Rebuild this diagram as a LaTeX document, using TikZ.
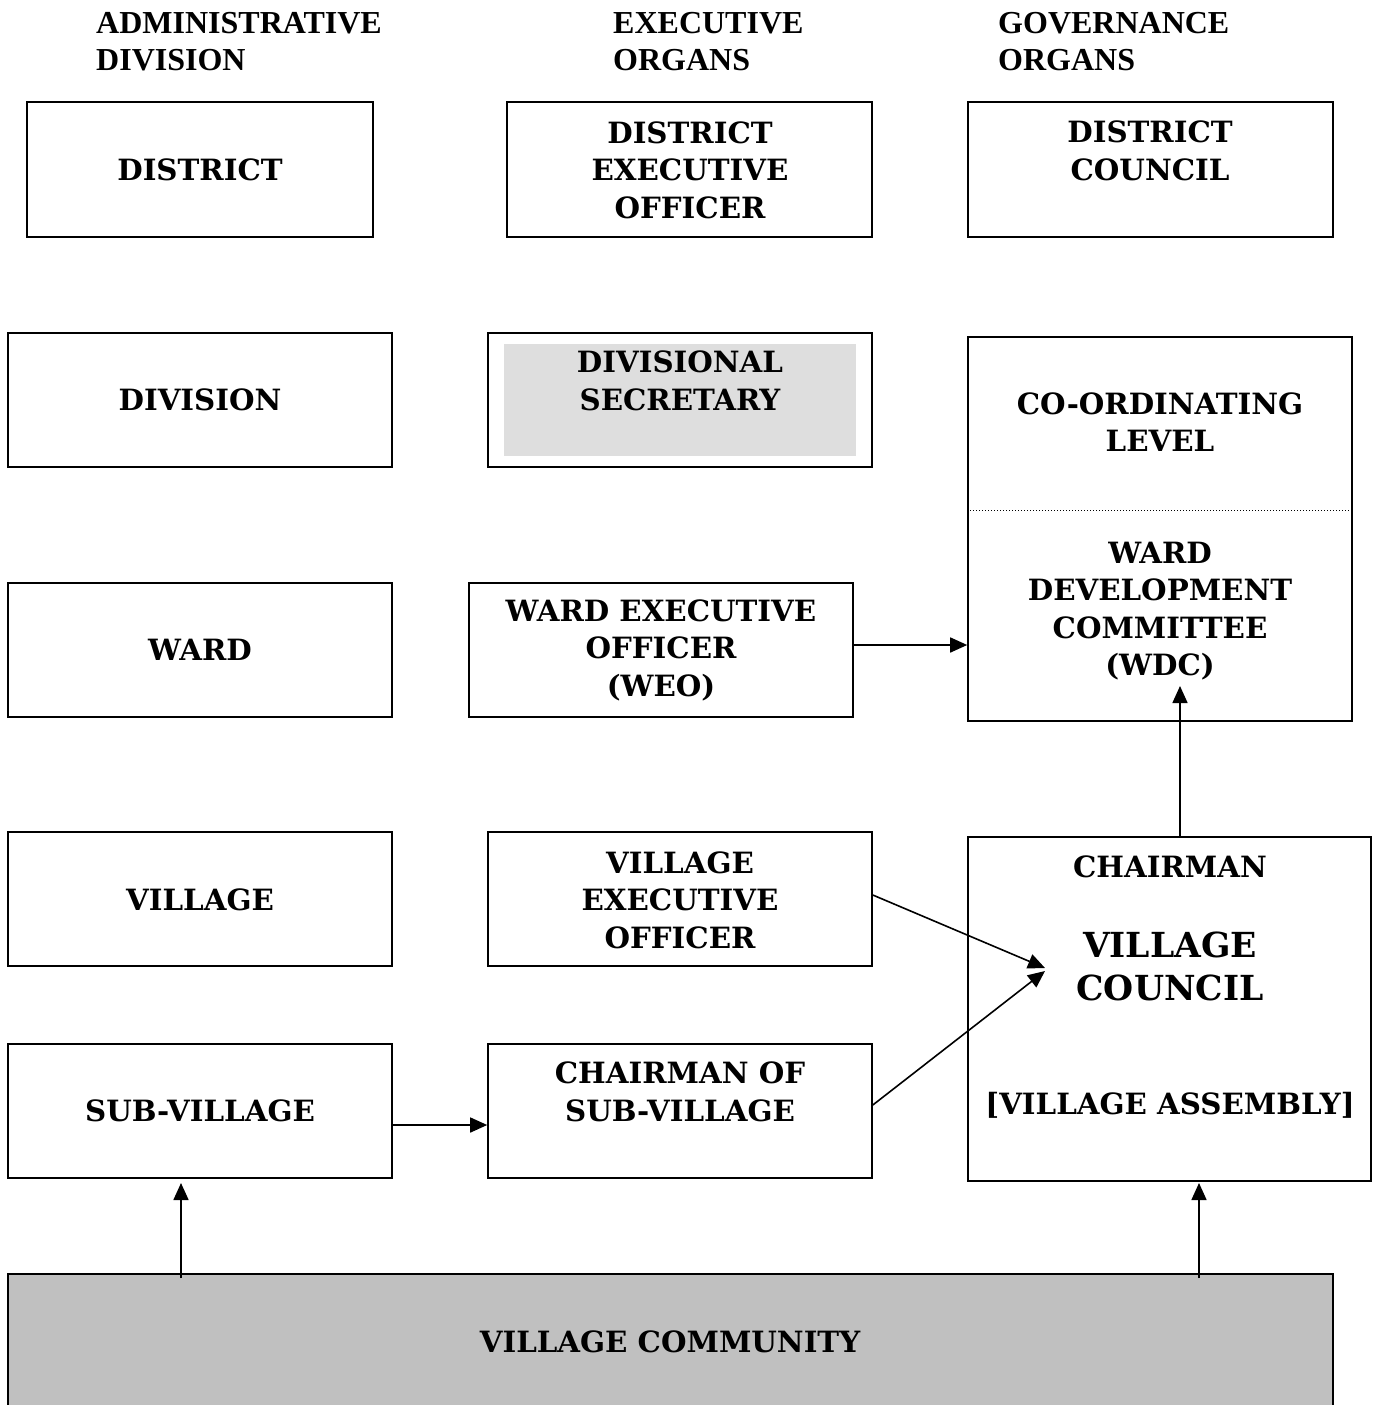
\documentclass[tikz,border=0pt]{standalone}
\usepackage{fontspec}
\setmainfont{Liberation Serif}
\newfontfamily\boxfont{DejaVu Serif}
\usetikzlibrary{arrows.meta,fit}
\definecolor{commgray}{HTML}{C0C0C0}
\definecolor{secgray}{HTML}{DEDEDE}
\begin{document}
\begin{tikzpicture}[x=1pt,y=-1pt,
  box/.style={draw, line width=1.6pt, inner sep=0pt},
  lbl/.style={align=center, inner sep=0pt, font=\boxfont\bfseries\fontsize{29.3}{37.5}\selectfont},
  big/.style={align=center, inner sep=0pt, font=\boxfont\bfseries\fontsize{34.5}{43}\selectfont},
  head/.style={align=left, anchor=north west, inner sep=0pt, font=\bfseries\fontsize{32}{37}\selectfont},
  arr/.style={line width=1.6pt, -{Triangle[length=17pt,width=15pt]}},
]
\useasboundingbox (0,0) rectangle (1380,1405);
\clip (0,0) rectangle (1380,1405);

% column headings
\node[head] (h1) at (96,12) {ADMINISTRATIVE\\DIVISION};
\node[head] (h2) at (613,12) {EXECUTIVE\\ORGANS};
\node[head] (h3) at (998,12) {GOVERNANCE\\ORGANS};

% district level
\node[box, fit={(27,102) (373,237)}] (dist) {};
\node[box, fit={(507,102) (872,237)}] (deo) {};
\node[box, fit={(968,102) (1333,237)}] (dcouncil) {};
\node[lbl] (tdist) at (200,170) {DISTRICT};
\node[lbl] (tdeo) at (690,170) {DISTRICT\\EXECUTIVE\\OFFICER};
\node[lbl] (tdc) at (1150,151) {DISTRICT\\COUNCIL};

% division level
\node[box, fit={(8,333) (392,467)}] (div) {};
\node[box, fit={(488,333) (872,467)}] (dsec) {};
\fill[secgray] (504,344) rectangle (856,456);
\node[lbl] (tdiv) at (200,400) {DIVISION};
\node[lbl] (tdsec) at (680,381) {DIVISIONAL\\SECRETARY};

% co-ordinating level and ward development committee
\node[box, fit={(968,337) (1352,721)}] (wdc) {};
\draw[line width=1pt, dotted] (970,510) -- (1350,510);
\node[lbl] (tcoord) at (1160,422) {CO-ORDINATING\\LEVEL};
\node[lbl] (twdc) at (1160,611) {WARD\\DEVELOPMENT\\COMMITTEE\\(WDC)};

% ward level
\node[box, fit={(8,583) (392,717)}] (ward) {};
\node[box, fit={(469,583) (853,717)}] (weo) {};
\node[lbl] (tward) at (200,650) {WARD};
\node[lbl] (tweo) at (661,650) {WARD EXECUTIVE\\OFFICER\\(WEO)};

% village level
\node[box, fit={(8,832) (392,966)}] (vil) {};
\node[box, fit={(488,832) (872,966)}] (veo) {};
\node[box, fit={(968,837) (1371,1181)}] (vc) {};
\node[lbl] (tvil) at (200,900) {VILLAGE};
\node[lbl] (tveo) at (680,900) {VILLAGE\\EXECUTIVE\\OFFICER};
\node[lbl] (tchair) at (1170,867) {CHAIRMAN};
\node[big] (tvc) at (1170,966) {VILLAGE\\COUNCIL};
\node[lbl] (tva) at (1170,1105) {[VILLAGE ASSEMBLY]};

% sub-village level
\node[box, fit={(8,1044) (392,1178)}] (sv) {};
\node[box, fit={(488,1044) (872,1178)}] (csv) {};
\node[lbl] (tsv) at (200,1111) {SUB-VILLAGE};
\node[lbl] (tcsv) at (680,1092) {CHAIRMAN OF\\SUB-VILLAGE};

% village community
\node[box, fill=commgray, fit={(8,1274) (1333,1420)}] (comm) {};
\node[lbl] (tcomm) at (670,1342) {VILLAGE COMMUNITY};

% connector end points
\coordinate (vcin1) at (1045,968);
\coordinate (vcin2) at (1045,971);
\coordinate (wdcin) at (1180,686);
\coordinate (vcout) at (1180,837);
\coordinate (cm1) at (181,1278);
\coordinate (sv1) at (181,1183);
\coordinate (cm2) at (1199,1278);
\coordinate (vc2) at (1199,1183);

% connectors
\draw[arr] ([yshift=5pt]weo.east) -- ([yshift=5pt]weo.east -| wdc.west);
\draw[arr] (vcout) -- (wdcin);
\draw[arr] ([yshift=4pt]veo.east) -- (vcin1);
\draw[arr] ([yshift=6pt]csv.east) -- (vcin2);
\draw[arr] ([yshift=-14pt]sv.east) -- ([yshift=-14pt]sv.east -| csv.west);
\draw[arr] (cm1) -- (sv1);
\draw[arr] (cm2) -- (vc2);
\end{tikzpicture}
\end{document}
